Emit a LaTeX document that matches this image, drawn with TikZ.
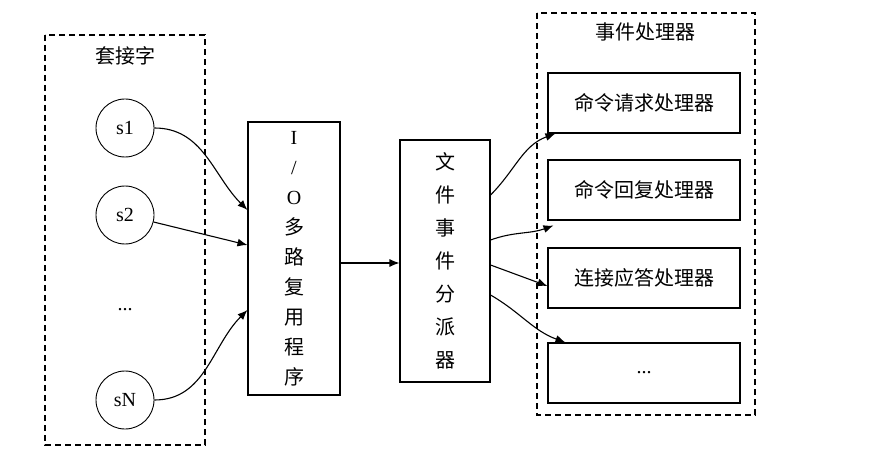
\documentclass[tikz,border=0pt]{standalone}
\usepackage{fontspec}
\setmainfont{Liberation Serif}
\newfontfamily\cjk{Noto Sans CJK SC}
\usetikzlibrary{arrows.meta}
\begin{document}
\begin{tikzpicture}[x=1pt,y=-1pt,
  every node/.style={font=\fontsize{20}{24}\selectfont},
  grp/.style={draw,dash pattern=on 6pt off 4pt,line width=1.1pt},
  sock/.style={draw,circle,minimum size=58pt,inner sep=0pt,line width=0.9pt},
  box/.style={draw,line width=1.1pt},
  hbox/.style={draw,line width=1.1pt,minimum width=192pt,minimum height=60pt},
  arr/.style={-{Latex[length=10pt,width=8pt]},line width=1.1pt}]
\useasboundingbox (0,0) rectangle (875,473);
\draw[grp] (45,35) rectangle (205,445);
\node (lt) at (125,56) {\cjk 套接字};
\node[sock] (s1) at (125,128) {s1};
\node[sock] (s2) at (125,215) {s2};
\node (sd) at (125,310) {...};
\node[sock] (sN) at (125,400) {sN};
\node[box,minimum width=92pt,minimum height=273pt,align=center,inner sep=0pt,
  font=\fontsize{20}{30}\selectfont] (io) at (294,258.5)
  {I\\/\\O\\{\cjk 多}\\{\cjk 路}\\{\cjk 复}\\{\cjk 用}\\{\cjk 程}\\{\cjk 序}};
\node[box,minimum width=90pt,minimum height=242pt,align=center,inner sep=0pt,
  font=\fontsize{20}{33}\selectfont] (dp) at (445,261)
  {{\cjk 文}\\{\cjk 件}\\{\cjk 事}\\{\cjk 件}\\{\cjk 分}\\{\cjk 派}\\{\cjk 器}};
\draw[grp] (537,13) rectangle (755,415);
\node (rt) at (645,32) {\cjk 事件处理器};
\node[hbox] (h1) at (644,103) {\cjk 命令请求处理器};
\node[hbox] (h2) at (644,190) {\cjk 命令回复处理器};
\node[hbox] (h3) at (644,278) {\cjk 连接应答处理器};
\node[hbox] (h4) at (644,373) {...};
\coordinate (i1) at (io.west |- 0,210);
\coordinate (i2) at (io.west |- 0,245);
\coordinate (i3) at (io.west |- 0,310);
\draw[arr] (s1) to[out=0,in=135] (i1);
\draw[arr] (s2) -- (i2);
\draw[arr] (sN) to[out=0,in=-135] (i3);
\draw[arr] (io.east |- 0,263) -- (dp.west |- 0,263);
\draw[arr] (dp.east |- 0,195) to[out=45,in=-160] ([xshift=8pt]h1.south west);
\draw[arr] (dp.east |- 0,240) to[out=20,in=-160] ([yshift=-5pt,xshift=6pt]h2.south west);
\draw[arr] (dp.east |- 0,265) -- ([yshift=-8pt]h3.west);
\draw[arr] (dp.east |- 0,295) to[out=-30,in=160] ([xshift=18pt]h4.north west);
\end{tikzpicture}
\end{document}
